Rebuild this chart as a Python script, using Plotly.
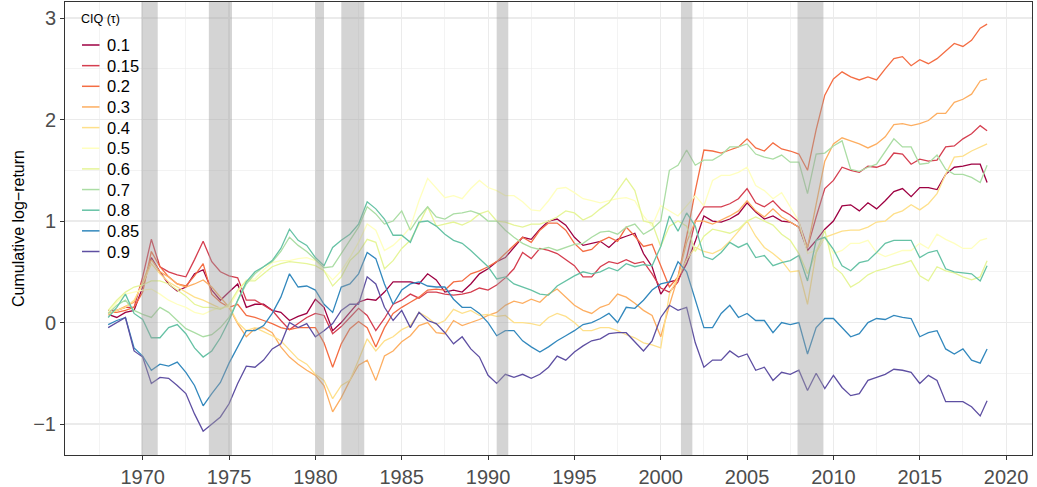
import plotly.graph_objects as go

# time axis: half-year sampling, last observation late 2018
years = [1968 + 0.5 * i for i in range(102)] + [2018.9]

s010 = [0.08, 0.05, 0.10, 0.12, 0.35, 0.64, 0.50, 0.38, 0.31, 0.35, 0.48, 0.52, 0.32, 0.22, 0.30, 0.38, 0.15, 0.18, 0.18, 0.12,
        0.10, 0.02, 0.06, 0.09, 0.23, 0.15, -0.08, 0.00, 0.10, 0.20, 0.23, 0.22, 0.30, 0.40, 0.40, 0.40, 0.38, 0.48, 0.42, 0.30,
        0.32, 0.30, 0.38, 0.48, 0.53, 0.60, 0.64, 0.74, 0.84, 0.82, 0.92, 1.00, 1.02, 0.96, 0.84, 0.76, 0.78, 0.80, 0.74, 0.82,
        0.85, 0.88, 0.68, 0.55, 0.28, 0.40, 0.42, 0.58, 0.80, 1.05, 1.00, 0.99, 1.02, 1.07, 1.18, 1.09, 1.02, 1.05, 1.00, 0.99,
        0.94, 0.71, 0.81, 0.92, 1.00, 1.15, 1.16, 1.10, 1.18, 1.12, 1.20, 1.29, 1.32, 1.24, 1.33, 1.33, 1.31, 1.46, 1.53, 1.54,
        1.56, 1.56, 1.38]
s015 = [0.12, 0.12, 0.15, 0.15, 0.45, 0.82, 0.55, 0.50, 0.47, 0.45, 0.62, 0.80, 0.60, 0.50, 0.46, 0.44, 0.22, 0.22, 0.17, 0.12,
        0.02, -0.07, -0.01, 0.05, 0.09, 0.07, -0.11, -0.04, 0.05, 0.14, 0.07, -0.08, 0.04, 0.18, 0.22, 0.28, 0.24, 0.30, 0.30, 0.28,
        0.27, 0.28, 0.30, 0.34, 0.32, 0.37, 0.44, 0.53, 0.69, 0.63, 0.73, 0.71, 0.68, 0.62, 0.56, 0.45, 0.45, 0.55, 0.60, 0.58,
        0.62, 0.58, 0.60, 0.48, 0.34, 0.30, 0.40, 0.64, 1.00, 1.14, 1.14, 1.14, 1.17, 1.22, 1.32, 1.18, 1.14, 1.20, 1.11, 1.06,
        0.99, 0.74, 1.04, 1.32, 1.40, 1.53, 1.50, 1.48, 1.54, 1.53, 1.56, 1.67, 1.66, 1.56, 1.61, 1.59, 1.60, 1.73, 1.74, 1.81,
        1.86, 1.94, 1.89]
s020 = [0.10, 0.10, 0.12, 0.15, 0.30, 0.70, 0.55, 0.45, 0.38, 0.36, 0.46, 0.58, 0.28, 0.20, 0.15, 0.18, 0.07, 0.05, 0.02, -0.01,
        -0.05, -0.07, -0.05, -0.05, -0.05, -0.20, -0.44, -0.21, -0.06, 0.01, -0.05, -0.24, -0.05, 0.09, 0.15, 0.20, 0.25, 0.32, 0.33, 0.32,
        0.40, 0.41, 0.48, 0.51, 0.55, 0.60, 0.68, 0.76, 0.84, 0.79, 0.91, 0.98, 0.98, 0.91, 0.78, 0.70, 0.72, 0.80, 0.84, 0.80,
        0.94, 0.85, 0.75, 0.77, 0.55, 0.35, 0.45, 0.85, 1.30, 1.70, 1.69, 1.67, 1.70, 1.73, 1.81, 1.72, 1.69, 1.77, 1.71, 1.69,
        1.66, 1.50, 1.90, 2.24, 2.40, 2.47, 2.42, 2.39, 2.42, 2.39, 2.50, 2.60, 2.62, 2.53, 2.59, 2.55, 2.60, 2.68, 2.75, 2.72,
        2.78, 2.90, 2.94]
s030 = [0.08, 0.12, 0.16, 0.20, 0.40, 0.62, 0.50, 0.45, 0.38, 0.35, 0.38, 0.42, 0.35, 0.25, 0.15, -0.01, -0.14, -0.06, -0.05, -0.10,
        -0.24, -0.34, -0.41, -0.47, -0.52, -0.62, -0.88, -0.74, -0.57, -0.42, -0.37, -0.57, -0.33, -0.28, -0.19, -0.13, -0.03, 0.00, -0.10, -0.11,
        0.02, -0.03, 0.00, 0.03, 0.07, 0.10, 0.17, 0.21, 0.19, 0.23, 0.20, 0.28, 0.33, 0.25, 0.17, 0.12, 0.09, 0.15, 0.18, 0.28,
        0.25, 0.19, 0.12, 0.07, -0.14, 0.17, 0.45, 0.79, 1.00, 1.00, 0.97, 1.01, 1.05, 1.10, 1.20, 1.10, 1.04, 1.12, 1.04, 0.99,
        0.94, 0.74, 1.17, 1.59, 1.76, 1.82, 1.79, 1.76, 1.72, 1.76, 1.83, 1.95, 1.96, 1.94, 1.96, 1.99, 2.06, 2.06, 2.17, 2.20,
        2.25, 2.38, 2.40]
s040 = [0.08, 0.12, 0.15, 0.22, 0.38, 0.58, 0.48, 0.40, 0.35, 0.30, 0.25, 0.22, 0.18, 0.14, 0.16, 0.00, -0.08, -0.05, -0.09, -0.13,
        -0.18, -0.27, -0.36, -0.41, -0.51, -0.57, -0.75, -0.62, -0.57, -0.37, -0.16, -0.28, -0.18, -0.14, -0.07, -0.03, 0.10, 0.05, -0.02, 0.02,
        0.13, 0.09, 0.12, 0.07, 0.08, 0.06, 0.07, 0.00, 0.00, -0.01, -0.03, 0.05, 0.09, 0.06, 0.00, -0.08, -0.08, -0.05, -0.05, -0.08,
        -0.12, -0.15, -0.20, -0.22, -0.25, 0.28, 0.45, 0.62, 0.74, 0.70, 0.68, 0.72, 0.80, 0.90, 1.00, 0.85, 0.74, 0.68, 0.61, 0.50,
        0.51, 0.18, 0.69, 0.84, 0.87, 0.90, 0.91, 0.91, 0.94, 0.99, 1.00, 1.07, 1.10, 1.16, 1.11, 1.17, 1.27, 1.46, 1.63, 1.64,
        1.69, 1.73, 1.76]
s050 = [0.10, 0.20, 0.28, 0.30, 0.32, 0.33, 0.28, 0.22, 0.18, 0.15, 0.10, 0.08, 0.12, 0.15, 0.15, 0.30, 0.42, 0.43, 0.52, 0.59,
        0.61, 0.61, 0.63, 0.64, 0.61, 0.51, 0.42, 0.51, 0.64, 0.79, 0.97, 0.91, 0.71, 0.76, 0.84, 0.94, 1.20, 1.42, 1.33, 1.23,
        1.25, 1.22, 1.32, 1.40, 1.33, 1.30, 1.25, 1.25, 1.19, 1.11, 1.10, 1.20, 1.32, 1.33, 1.28, 1.22, 1.20, 1.18, 1.20, 1.22,
        1.23, 1.20, 1.05, 0.95, 1.15, 1.10, 1.05, 1.15, 1.25, 1.15, 1.40, 1.45, 1.45, 1.48, 1.53, 1.35, 1.30, 1.22, 1.28, 1.14,
        1.00, 0.68, 0.71, 0.84, 0.68, 0.71, 0.78, 0.78, 0.81, 0.69, 0.65, 0.68, 0.71, 0.71, 0.78, 0.73, 0.87, 0.82, 0.78, 0.73,
        0.73, 0.81, 0.83]
s060 = [0.12, 0.22, 0.30, 0.35, 0.37, 0.41, 0.41, 0.38, 0.32, 0.26, 0.18, 0.15, 0.15, 0.13, 0.18, 0.32, 0.41, 0.41, 0.48, 0.55,
        0.58, 0.60, 0.59, 0.58, 0.56, 0.51, 0.36, 0.45, 0.61, 0.69, 0.82, 0.79, 0.53, 0.61, 0.73, 0.81, 0.97, 1.14, 0.95, 0.97,
        0.99, 0.96, 1.00, 1.07, 1.10, 1.00, 0.99, 0.96, 0.94, 0.97, 0.97, 1.00, 1.04, 1.10, 1.08, 1.01, 1.05, 1.12, 1.18, 1.30,
        1.42, 1.30, 1.00, 0.98, 0.75, 0.95, 1.00, 0.95, 0.70, 0.85, 0.92, 0.90, 0.88, 0.92, 1.00, 1.04, 1.00, 0.96, 0.87, 0.81,
        0.68, 0.48, 0.69, 0.91, 0.55, 0.48, 0.35, 0.40, 0.47, 0.51, 0.53, 0.56, 0.58, 0.61, 0.46, 0.41, 0.55, 0.51, 0.49, 0.45,
        0.42, 0.45, 0.61]
s070 = [0.09, 0.17, 0.22, 0.12, 0.08, 0.05, 0.15, 0.10, 0.02, -0.06, -0.10, -0.14, -0.12, -0.05, 0.05, 0.22, 0.38, 0.48, 0.55, 0.60,
        0.70, 0.84, 0.76, 0.70, 0.62, 0.54, 0.55, 0.68, 0.81, 0.94, 1.14, 1.07, 0.97, 1.00, 1.10, 0.91, 1.04, 1.14, 1.04, 1.02,
        1.07, 1.08, 1.10, 1.07, 1.00, 1.00, 0.91, 0.84, 0.78, 0.74, 0.72, 0.74, 0.71, 0.74, 0.77, 0.78, 0.84, 0.89, 0.90, 0.87,
        0.94, 0.97, 0.87, 0.92, 1.00, 1.50, 1.55, 1.70, 1.55, 1.60, 1.60, 1.65, 1.73, 1.73, 1.76, 1.66, 1.63, 1.61, 1.65, 1.58,
        1.58, 1.27, 1.66, 1.67, 1.74, 1.79, 1.51, 1.49, 1.53, 1.56, 1.68, 1.81, 1.73, 1.73, 1.56, 1.57, 1.65, 1.51, 1.46, 1.46,
        1.43, 1.38, 1.55]
s080 = [0.05, 0.15, 0.28, 0.09, 0.03, -0.15, -0.15, -0.05, -0.02, -0.11, -0.25, -0.34, -0.28, -0.15, 0.02, 0.22, 0.40, 0.50, 0.55, 0.61,
        0.73, 0.92, 0.81, 0.76, 0.64, 0.56, 0.74, 0.81, 0.87, 0.97, 1.19, 1.12, 1.02, 0.86, 0.86, 0.79, 0.99, 1.00, 0.95, 0.87,
        0.81, 0.78, 0.71, 0.63, 0.55, 0.43, 0.45, 0.38, 0.35, 0.32, 0.28, 0.27, 0.36, 0.41, 0.46, 0.50, 0.48, 0.50, 0.54, 0.51,
        0.58, 0.55, 0.57, 0.56, 0.75, 1.05, 0.90, 1.08, 0.95, 0.65, 0.62, 0.69, 0.79, 0.74, 0.78, 0.64, 0.66, 0.56, 0.59, 0.61,
        0.66, 0.41, 0.81, 0.84, 0.72, 0.56, 0.51, 0.59, 0.61, 0.69, 0.78, 0.81, 0.81, 0.81, 0.64, 0.69, 0.71, 0.53, 0.50, 0.49,
        0.48, 0.41, 0.56]
s085 = [-0.02, 0.02, 0.05, -0.25, -0.33, -0.47, -0.41, -0.43, -0.39, -0.49, -0.62, -0.82, -0.70, -0.59, -0.40, -0.24, -0.08, -0.08, -0.03, 0.09,
        0.25, 0.48, 0.35, 0.36, 0.32, 0.18, 0.10, 0.35, 0.38, 0.48, 0.69, 0.63, 0.38, 0.18, 0.32, 0.38, 0.40, 0.36, 0.35, 0.35,
        0.23, 0.15, 0.15, 0.09, 0.00, -0.13, -0.08, -0.08, -0.18, -0.24, -0.29, -0.24, -0.18, -0.13, -0.08, -0.02, 0.00, 0.04, 0.09, 0.00,
        0.15, 0.14, 0.22, 0.32, 0.38, 0.40, 0.60, 0.50, 0.22, -0.05, -0.05, 0.09, 0.17, 0.05, 0.09, 0.02, 0.02, -0.10, 0.00, -0.02,
        0.00, -0.31, -0.05, 0.04, 0.04, -0.05, -0.14, -0.11, 0.00, 0.04, 0.03, 0.07, 0.05, 0.04, -0.14, -0.10, -0.08, -0.26, -0.31, -0.26,
        -0.37, -0.40, -0.26]
s090 = [-0.05, 0.00, 0.05, -0.28, -0.34, -0.60, -0.54, -0.55, -0.62, -0.70, -0.90, -1.07, -1.00, -0.93, -0.80, -0.60, -0.43, -0.44, -0.37, -0.26,
        -0.21, 0.00, -0.05, -0.01, -0.14, -0.08, -0.01, 0.12, 0.18, 0.18, 0.45, 0.38, 0.15, 0.02, 0.12, -0.05, 0.10, 0.02, -0.01, -0.10,
        -0.21, -0.14, -0.26, -0.34, -0.52, -0.60, -0.51, -0.54, -0.51, -0.55, -0.51, -0.44, -0.33, -0.37, -0.29, -0.23, -0.18, -0.16, -0.11, -0.10,
        -0.10, -0.19, -0.28, -0.18, 0.05, 0.17, 0.12, 0.15, -0.20, -0.44, -0.37, -0.37, -0.28, -0.34, -0.31, -0.47, -0.44, -0.57, -0.49, -0.51,
        -0.47, -0.67, -0.50, -0.65, -0.52, -0.64, -0.72, -0.70, -0.57, -0.54, -0.51, -0.46, -0.47, -0.49, -0.60, -0.52, -0.57, -0.78, -0.78, -0.78,
        -0.83, -0.92, -0.77]

series_names = ["0.1", "0.15", "0.2", "0.3", "0.4", "0.5", "0.6", "0.7", "0.8", "0.85", "0.9"]
series_values = [s010, s015, s020, s030, s040, s050, s060, s070, s080, s085, s090]
colors = ["#9E0142", "#D53E4F", "#F46D43", "#FDAE61", "#FEE08B", "#FFFFBF",
          "#E6F598", "#ABDDA4", "#66C2A5", "#3288BD", "#5E4FA2"]

# NBER recession periods
rec_start = [1969.92, 1973.83, 1980.00, 1981.50, 1990.50, 2001.17, 2007.92]
rec_end = [1970.87, 1975.17, 1980.50, 1982.83, 1991.17, 2001.83, 2009.42]

FONT = "Liberation Sans, Arial, Helvetica, sans-serif"
W, H = 1037, 487
ML, MR, MT, MB = 65, 5, 2, 32
PW, PH = W - ML - MR, H - MT - MB


def px_x(px):
    return (px - ML) / PW


def px_y(py):
    return 1 - (py - MT) / PH


fig = go.Figure()
for name, vals, col in zip(series_names, series_values, colors):
    fig.add_trace(go.Scatter(x=years, y=vals, mode="lines", name=name,
                             line=dict(color=col, width=1.3), showlegend=False,
                             hoverinfo="skip"))

shapes = []
annotations = []

# legend background (between grid and data)
shapes.append(dict(type="rect", xref="paper", yref="paper",
                   x0=px_x(78), x1=px_x(140), y0=px_y(263), y1=px_y(6),
                   fillcolor="white", line=dict(width=0), layer="between"))

for a, b in zip(rec_start, rec_end):
    shapes.append(dict(type="rect", xref="x", yref="paper", x0=a, x1=b, y0=0, y1=1,
                       fillcolor="rgba(160,160,160,0.45)", line=dict(width=0), layer="above"))

# manual legend
annotations.append(dict(xref="paper", yref="paper", x=px_x(79), y=px_y(19),
                        xanchor="left", yanchor="middle", showarrow=False,
                        text="CIQ (τ)", font=dict(size=12.5, color="black", family=FONT)))
for i, (name, col) in enumerate(zip(series_names, colors)):
    cy = 45 + 20.65 * i
    shapes.append(dict(type="line", xref="paper", yref="paper",
                       x0=px_x(82), x1=px_x(99.5), y0=px_y(cy), y1=px_y(cy),
                       line=dict(color=col, width=1.5), layer="above"))
    annotations.append(dict(xref="paper", yref="paper", x=px_x(105), y=px_y(cy),
                            xanchor="left", yanchor="middle", showarrow=False,
                            text=name, font=dict(size=16.5, color="black", family=FONT)))

fig.update_layout(
    width=W, height=H,
    margin=dict(l=ML, r=MR, t=MT, b=MB, autoexpand=False),
    paper_bgcolor="white", plot_bgcolor="white",
    font=dict(family=FONT, color="black"),
    showlegend=False,
    hovermode=False,
    shapes=shapes,
    annotations=annotations,
    xaxis=dict(
        range=[1965.5, 2021.5],
        tick0=1970, dtick=5,
        ticks="outside", ticklen=4, tickcolor="#333333", tickwidth=1,
        tickfont=dict(size=20, color="#4D4D4D", family=FONT),
        showline=True, mirror=True, linecolor="#333333", linewidth=1,
        showgrid=True, gridcolor="#EBEBEB", gridwidth=1.1,
        zeroline=False,
        minor=dict(tick0=1967.5, dtick=5, showgrid=True, gridcolor="#EBEBEB", gridwidth=0.6, ticks=""),
    ),
    yaxis=dict(
        range=[-1.305, 3.158],
        tick0=0, dtick=1,
        ticks="outside", ticklen=4, tickcolor="#333333", tickwidth=1,
        tickfont=dict(size=20, color="#4D4D4D", family=FONT),
        showline=True, mirror=True, linecolor="#333333", linewidth=1,
        showgrid=True, gridcolor="#EBEBEB", gridwidth=1.1,
        zeroline=False,
        minor=dict(tick0=-0.5, dtick=1, showgrid=True, gridcolor="#EBEBEB", gridwidth=0.6, ticks=""),
        title=dict(text="Cumulative log\u2212return", font=dict(size=16, color="black", family=FONT), standoff=4),
    ),
)

fig.write_html("out.html", config={"displayModeBar": False, "staticPlot": True},
               post_script="document.body.style.margin='0';document.body.style.overflow='hidden';")
